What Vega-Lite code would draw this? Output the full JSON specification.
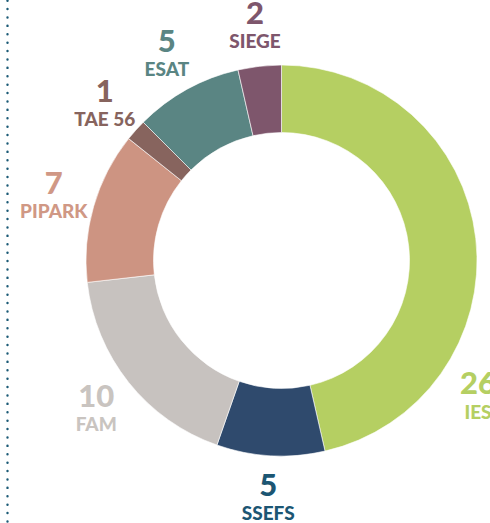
{
  "$schema": "https://vega.github.io/schema/vega-lite/v6.json",
  "width": 417,
  "height": 521,
  "autosize": "none",
  "padding": {"left": 73, "top": 0, "right": 0, "bottom": 2},
  "background": "white",
  "view": {"stroke": null},
  "config": {"text": {"font": "Lato", "fontWeight": 900, "align": "center", "baseline": "middle"}},
  "data": {"values": [
    {"name": "IES", "value": 26},
    {"name": "SSEFS", "value": 5},
    {"name": "FAM", "value": 10},
    {"name": "PIPARK", "value": 7},
    {"name": "TAE 56", "value": 1},
    {"name": "ESAT", "value": 5},
    {"name": "SIEGE", "value": 2}
  ]},
  "transform": [{"window": [{"op": "row_number", "as": "rank"}]}],
  "layer": [
    {
      "mark": {"type": "rule", "opacity": 0},
      "encoding": {
        "y": {"datum": 0, "type": "quantitative", "scale": {"domain": [0, 1]},
          "axis": {"domain": true, "domainDash": [0.1, 8.3], "domainCap": "round", "domainWidth": 2.4, "domainColor": "#1b5a76", "ticks": false, "labels": false, "title": null, "grid": false, "offset": 66}}
      }
    },
    {
      "mark": {"type": "arc", "innerRadius": 128, "outerRadius": 195.5, "stroke": "white", "strokeWidth": 0.6},
      "encoding": {
        "theta": {"field": "value", "type": "quantitative", "stack": true},
        "order": {"field": "rank", "type": "quantitative"},
        "color": {"field": "name", "type": "nominal", "legend": null,
          "scale": {"domain": ["IES", "SSEFS", "FAM", "PIPARK", "TAE 56", "ESAT", "SIEGE"],
                    "range": ["#b5cf62", "#2f4a6d", "#c7c2bf", "#cd9482", "#87645e", "#5a8583", "#7e566c"]}}
      }
    },
    {
      "mark": {"type": "text", "radius": 237, "dy": -10, "fontSize": 31},
      "encoding": {
        "theta": {"field": "value", "type": "quantitative", "stack": true},
        "order": {"field": "rank", "type": "quantitative"},
        "text": {"condition": {"test": "datum.name === 'IES'", "value": ""}, "field": "value", "type": "quantitative"},
        "color": {"field": "name", "type": "nominal", "legend": null,
          "scale": {"domain": ["IES", "SSEFS", "FAM", "PIPARK", "TAE 56", "ESAT", "SIEGE"],
                    "range": ["#b5cf62", "#1c5673", "#c9c4c0", "#d09885", "#87645e", "#5a8583", "#7e566c"]}}
      }
    },
    {
      "mark": {"type": "text", "radius": 237, "dy": 17, "fontSize": 19},
      "encoding": {
        "theta": {"field": "value", "type": "quantitative", "stack": true},
        "order": {"field": "rank", "type": "quantitative"},
        "text": {"condition": {"test": "datum.name === 'IES'", "value": ""}, "field": "name", "type": "nominal"},
        "color": {"field": "name", "type": "nominal", "legend": null,
          "scale": {"domain": ["IES", "SSEFS", "FAM", "PIPARK", "TAE 56", "ESAT", "SIEGE"],
                    "range": ["#b5cf62", "#1c5673", "#c9c4c0", "#d09885", "#87645e", "#5a8583", "#7e566c"]}}
      }
    },
    {
      "mark": {"type": "text", "radius": 238, "dx": -40, "dy": 151, "fontSize": 31},
      "encoding": {
        "theta": {"field": "value", "type": "quantitative", "stack": true},
        "order": {"field": "rank", "type": "quantitative"},
        "text": {"condition": {"test": "datum.name !== 'IES'", "value": ""}, "field": "value", "type": "quantitative"},
        "color": {"value": "#b5cf62"}
      }
    },
    {
      "mark": {"type": "text", "radius": 238, "dx": -40, "dy": 179, "fontSize": 19},
      "encoding": {
        "theta": {"field": "value", "type": "quantitative", "stack": true},
        "order": {"field": "rank", "type": "quantitative"},
        "text": {"condition": {"test": "datum.name !== 'IES'", "value": ""}, "field": "name", "type": "nominal"},
        "color": {"value": "#b5cf62"}
      }
    }
  ],
  "resolve": {"scale": {"color": "independent"}}
}
